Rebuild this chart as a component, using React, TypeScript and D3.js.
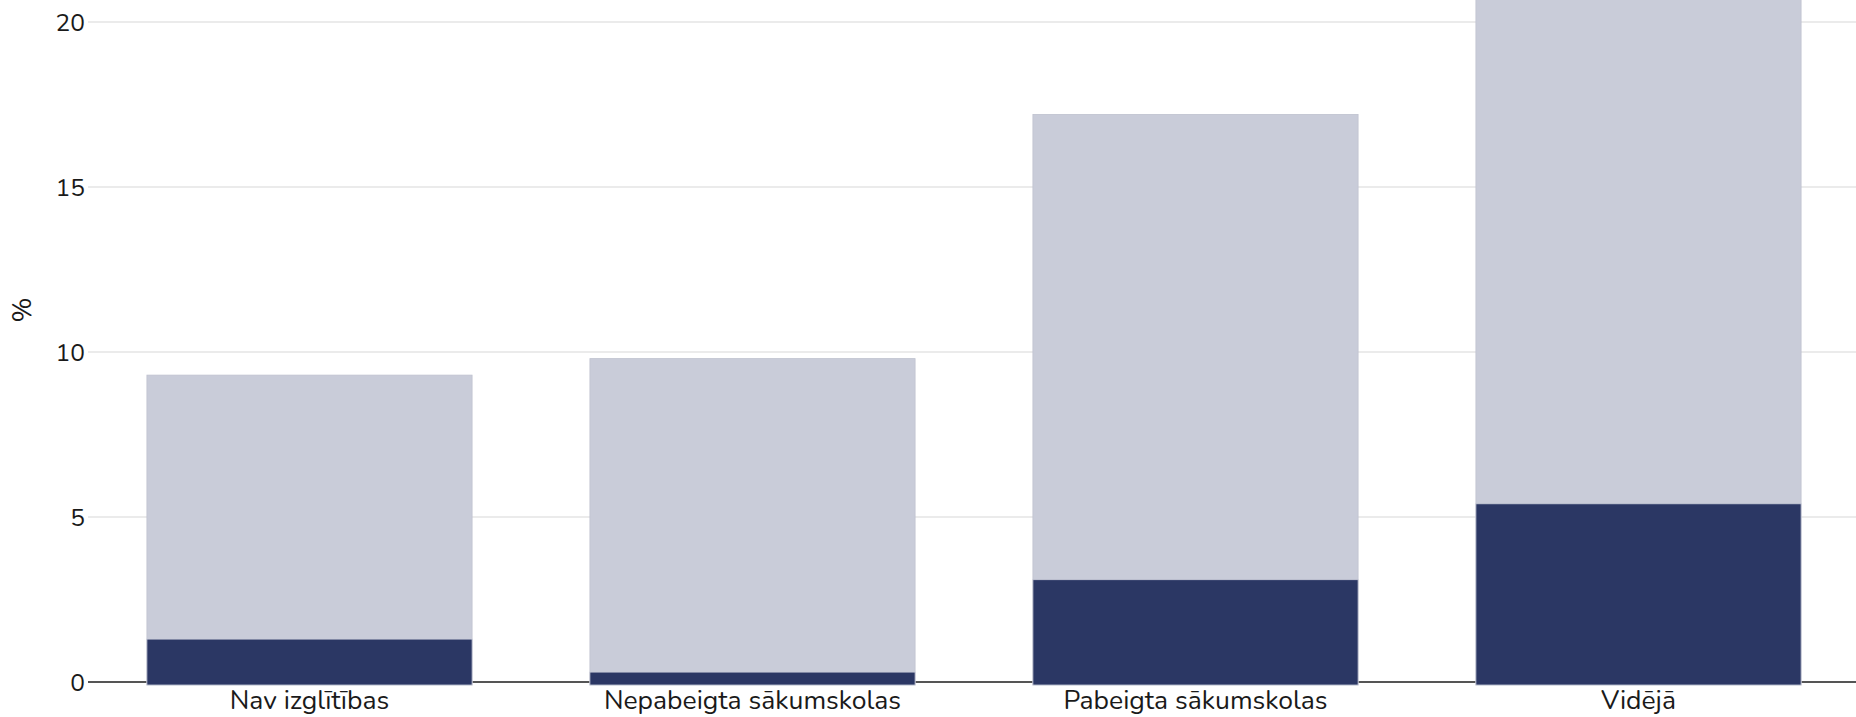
import * as d3 from "d3";

const categories = ["Nav izglītības", "Nepabeigta sākumskolas", "Pabeigta sākumskolas", "Vidējā"];
const totalValues = [9.3, 9.8, 17.2, 22.5];
const subsetValues = [1.3, 0.3, 3.1, 5.4];
const yTicks = [0, 5, 10, 15, 20];

const WIDTH = 1856;
const HEIGHT = 717;
const MARGIN = { top: 22, right: 0, bottom: 35, left: 88 };
const FONT = "Nunito, Lato, 'Noto Sans', sans-serif";

const LIGHT = "#c9ccd9";
const DARK = "#2b3764";

export default function App() {
  const x = d3
    .scaleBand<string>()
    .domain(categories)
    .range([MARGIN.left, WIDTH + 4])
    .paddingInner(0.266)
    .paddingOuter(0.133);
  const y = d3.scaleLinear().domain([0, 20]).range([HEIGHT - MARGIN.bottom, MARGIN.top]);

  return (
    <svg
      width={WIDTH}
      height={HEIGHT}
      viewBox={`0 0 ${WIDTH} ${HEIGHT}`}
      style={{ position: "absolute", left: 0, top: 0, background: "#fff" }}
      fontFamily={FONT}
    >
      {yTicks.map((tick) => (
        <g key={tick}>
          {tick > 0 && (
            <line x1={MARGIN.left} x2={WIDTH} y1={y(tick)} y2={y(tick)} stroke="#ebebeb" strokeWidth="2" />
          )}
          <text x={MARGIN.left - 3} y={y(tick)} dy="0.35em" textAnchor="end" fontSize="24.5" fill="#1a1a1a">
            {tick}
          </text>
        </g>
      ))}
      <line x1={MARGIN.left} x2={WIDTH} y1={y(0)} y2={y(0)} stroke="#555" strokeWidth="2" />
      {categories.map((cat, i) => (
        <g key={cat}>
          <rect
            x={x(cat)}
            y={y(totalValues[i])}
            width={x.bandwidth()}
            height={y(0) - y(totalValues[i]) + 3}
            fill={LIGHT}
            stroke="#bfc2cf"
            strokeWidth="0.8"
          />
          <rect
            x={x(cat)}
            y={y(subsetValues[i])}
            width={x.bandwidth()}
            height={y(0) - y(subsetValues[i]) + 3}
            fill={DARK}
            stroke="#c9ccd9"
            strokeWidth="0.8"
          />
          <text
            x={(x(cat) ?? 0) + x.bandwidth() / 2}
            y={y(0) + 27}
            textAnchor="middle"
            fontSize="26.5"
            fill="#1a1a1a"
          >
            {cat}
          </text>
        </g>
      ))}
      <text
        transform={`translate(22 ${(y(0) + y(20)) / 2 - 42}) rotate(-90)`}
        textAnchor="middle"
        dy="0.35em"
        fontSize="27"
        fill="#1a1a1a"
      >
        %
      </text>
    </svg>
  );
}
